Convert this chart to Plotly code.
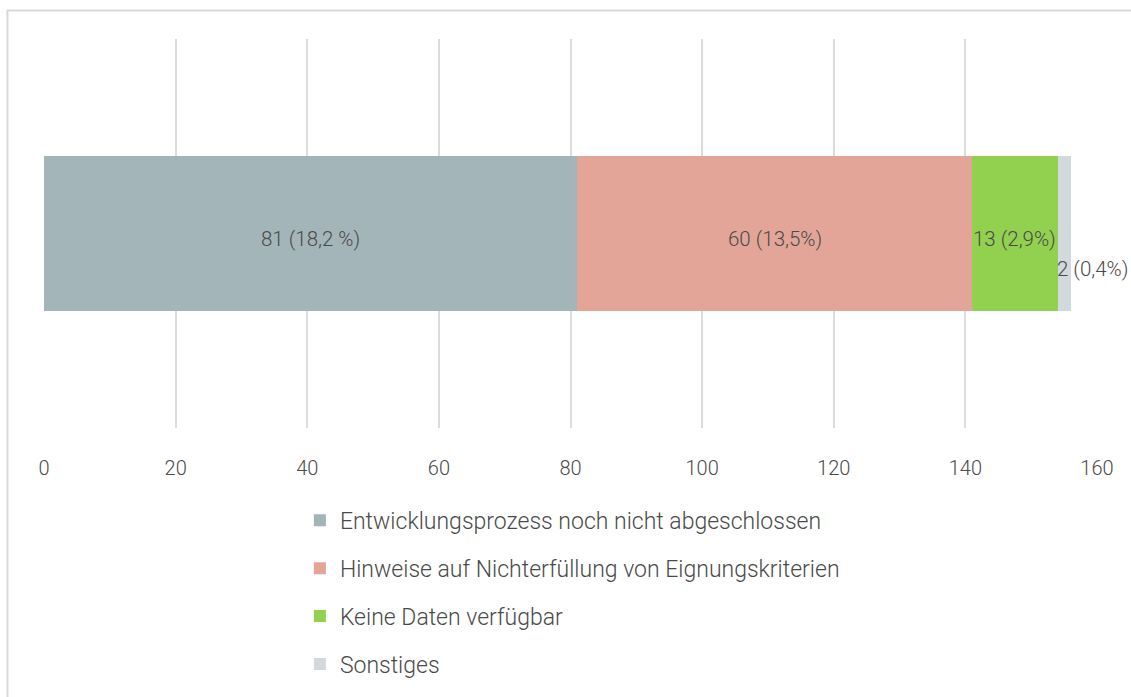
import plotly.graph_objects as go

categories = [""]
series_names = [
    "Entwicklungsprozess noch nicht abgeschlossen",
    "Hinweise auf Nichterfüllung von Eignungskriterien",
    "Keine Daten verfügbar",
    "Sonstiges",
]
series_values = [81, 60, 13, 2]
series_labels = ["81 (18,2 %)", "60 (13,5%)", "13 (2,9%)", "2 (0,4%)"]
colors = ["#a3b5b8", "#e2a598", "#92d050", "#d1d9dd"]
tick_values = [0, 20, 40, 60, 80, 100, 120, 140, 160]

FONT = "Roboto"
TXT = "#4a4a4a"

fig = go.Figure()
start = 0
for i, (name, val, lab, col) in enumerate(zip(series_names, series_values, series_labels, colors)):
    fig.add_trace(go.Bar(
        y=categories, x=[val], name=name, orientation="h",
        marker=dict(color=col, line=dict(width=0)),
        width=0.4,
        legendgroup=name,
        hoverinfo="skip",
    ))
    if i < 3:
        fig.add_annotation(
            x=start + val / 2, y=categories[0], text=lab, showarrow=False,
            xanchor="center", yanchor="middle", yshift=-5,
            font=dict(family=FONT, size=20.5, color=TXT, weight=300),
        )
    else:
        fig.add_annotation(
            x=start, y=categories[0], text=lab, showarrow=False,
            xanchor="left", yanchor="middle", yshift=-35, xshift=-3,
            font=dict(family=FONT, size=20.5, color=TXT, weight=300),
        )
    start += val

# outer border (top + left)
fig.add_shape(type="rect", xref="paper", yref="paper",
              x0=-0.0347, x1=1.2, y0=-2, y1=1.0733,
              line=dict(color="#d9d9d9", width=2), layer="below")

fig.update_layout(
    width=1131, height=697,
    barmode="stack",
    bargap=0.6,
    plot_bgcolor="white", paper_bgcolor="white",
    margin=dict(l=44, r=34, t=39, b=269, autoexpand=False),
    font=dict(family=FONT, size=20, color=TXT, weight=300),
    showlegend=True,
    hovermode=False,
    legend=dict(
        orientation="v", x=0.243, xanchor="left", y=-0.182, yanchor="top",
        font=dict(family=FONT, size=23, color=TXT, weight=300),
        tracegroupgap=15, traceorder="grouped",
    ),
    xaxis=dict(
        range=[0, 160], tickvals=tick_values, showgrid=True,
        gridcolor="#dcdcdc", gridwidth=2, zeroline=False,
        showline=False, ticks="", ticklabelstandoff=26,
        tickfont=dict(family=FONT, size=20, color=TXT, weight=300),
        fixedrange=True,
    ),
    yaxis=dict(visible=False, range=[-0.5, 0.5], fixedrange=True),
)

fig.write_html(
    "out.html",
    config={"displayModeBar": False},
    post_script="document.body.style.margin='0';document.body.style.overflow='hidden';",
)
